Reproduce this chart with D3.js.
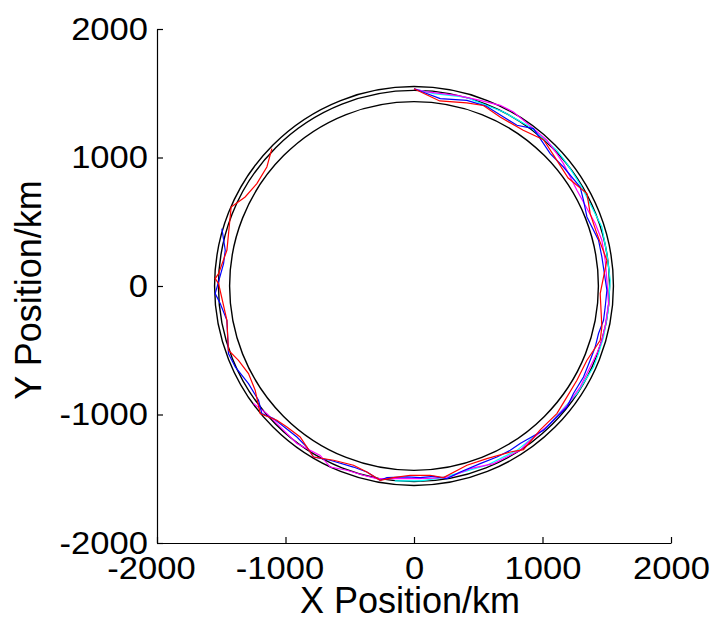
<!DOCTYPE html>
<meta charset="utf-8">
<head>
  <meta charset="UTF-8" />
  <title>Orbit tracks</title>
  <script src="https://d3js.org/d3.v7.min.js"></script>
</head>
<style>
  body { margin: 0; background: #fff; }
  text { font-family: Arial, "Liberation Sans", sans-serif; fill: #000; }
</style>
<div id="chart"></div>
<script>

  // axis ticks
  var xTicks = [-2000, -1000, 0, 1000, 2000]
  var yTicks = [-2000, -1000, 0, 1000, 2000]

  // black reference circles, radius in km
  var circleRadii = [1435, 1522, 1552]

  // tracks in km, [x, y]
  var cyanTrack = [[0,1535],[152,1497],[400,1470],[697,1354],[904,1237],[1112,1056],[1190,952],[1300,780],[1462,459],[1501,252],[1527,44],[1510,-200],[1475,-397],[1436,-526],[1397,-630],[1268,-837],[1034,-1097],[930,-1175],[801,-1279],[567,-1395],[385,-1447],[200,-1495],[48,-1517],[-150,-1517]]

  var magentaTrack = [[0,1535],[100,1510],[334,1484],[515,1445],[671,1406],[774,1354],[900,1250],[1034,1134],[1112,1030],[1163,952],[1268,745],[1410,486],[1462,356],[1488,200],[1501,44],[1514,-137],[1490,-300],[1462,-423],[1423,-526],[1371,-630],[1293,-786],[1190,-930],[1060,-1071],[878,-1226],[826,-1279],[619,-1382],[437,-1421],[282,-1486],[150,-1495],[48,-1499],[-133,-1499],[-289,-1499],[-393,-1473],[-522,-1434],[-652,-1409],[-730,-1318],[-911,-1226],[-989,-1149],[-1145,-993],[-1249,-915]]

  var blueTrack = [[0,1535],[204,1458],[412,1445],[560,1400],[697,1315],[801,1251],[930,1225],[1060,1030],[1163,926],[1293,770],[1319,667],[1346,537],[1436,356],[1462,226],[1501,-33],[1488,-163],[1475,-267],[1436,-370],[1410,-475],[1371,-578],[1319,-708],[1241,-837],[1190,-942],[1086,-1045],[1008,-1123],[826,-1226],[749,-1279],[645,-1331],[515,-1382],[360,-1447],[256,-1499],[152,-1481],[48,-1491],[-55,-1486],[-211,-1491],[-263,-1512],[-367,-1447],[-471,-1409],[-652,-1356],[-782,-1331],[-834,-1253],[-911,-1175],[-1093,-1032],[-1184,-993],[-1210,-889],[-1288,-760],[-1391,-630],[-1444,-526],[-1456,-267],[-1508,-137],[-1547,-59],[-1482,174],[-1469,278],[-1495,447]]

  var redTrack = [[0,1535],[200,1440],[410,1425],[540,1405],[670,1315],[850,1212],[1008,1139],[1112,978],[1200,840],[1346,719],[1371,563],[1423,408],[1501,200],[1449,-59],[1462,-319],[1449,-423],[1346,-578],[1268,-734],[1180,-880],[1112,-993],[982,-1120],[852,-1273],[749,-1292],[567,-1343],[412,-1395],[230,-1491],[126,-1473],[-30,-1473],[-160,-1491],[-263,-1512],[-367,-1447],[-471,-1395],[-626,-1356],[-782,-1331],[-886,-1175],[-989,-1097],[-1067,-1045],[-1197,-993],[-1236,-811],[-1288,-682],[-1366,-578],[-1444,-500],[-1456,-267],[-1521,19],[-1547,58],[-1521,96],[-1456,278],[-1423,615],[-1314,693],[-1223,797],[-1145,926],[-1106,1069]]

  var tracks = [
    {name: "cyan", color: "#00ffff", points: cyanTrack},
    {name: "magenta", color: "#ff00ff", points: magentaTrack},
    {name: "blue", color: "#0000ff", points: blueTrack},
    {name: "red", color: "#ff0000", points: redTrack}
  ]

  var margin = {top: 29, right: 39, bottom: 80, left: 157},
      width = 710 - margin.left - margin.right,
      height = 623 - margin.top - margin.bottom;

  var svg = d3.select("#chart")
    .append("svg")
      .attr("width", 710)
      .attr("height", 623)
    .append("g")
      .attr("transform", "translate(" + margin.left + "," + margin.top + ")");

  var x = d3.scaleLinear().domain([-2000, 2000]).range([0, width])
  var y = d3.scaleLinear().domain([-2000, 2000]).range([height, 0])

  // circles
  svg.selectAll("ellipse.ring")
    .data(circleRadii)
    .join("ellipse")
      .attr("class", "ring")
      .attr("cx", x(0))
      .attr("cy", y(0))
      .attr("rx", d => x(d) - x(0))
      .attr("ry", d => y(0) - y(d))
      .attr("fill", "none")
      .attr("stroke", "#000")
      .attr("stroke-width", 1.4)

  var line = d3.line()
    .x(d => x(d[0]))
    .y(d => y(d[1]))

  svg.selectAll("path.track")
    .data(tracks)
    .join("path")
      .attr("class", "track")
      .attr("d", d => line(d.points))
      .attr("fill", "none")
      .attr("stroke", d => d.color)
      .attr("stroke-width", 1.2)

  // tick labels: digits centred on tick, minus hangs left
  var fmt = d => String(d)
  var stretch = 1.08

  var xAxis = svg.append("g")
    .attr("transform", "translate(0," + height + ")")
    .call(d3.axisBottom(x).tickValues(xTicks).tickFormat(fmt).tickSize(-6).tickSizeOuter(0).tickPadding(13))
  xAxis.selectAll("text")
    .style("font-size", "32px")
    .attr("transform", d => "translate(" + (d < 0 ? -6 : 0) + ",0) scale(" + stretch + ",1)")

  var yAxis = svg.append("g")
    .call(d3.axisLeft(y).tickValues(yTicks).tickFormat(fmt).tickSize(-6).tickSizeOuter(0).tickPadding(0))
  yAxis.selectAll("text")
    .style("font-size", "32px")
    .attr("x", 0)
    .attr("transform", "translate(-9,0) scale(" + stretch + ",1)")

  svg.selectAll(".domain, .tick line").attr("stroke", "#000").attr("stroke-width", 1.2)

  // axis titles
  svg.append("text")
    .attr("x", 253)
    .attr("y", 613 - margin.top)
    .attr("text-anchor", "middle")
    .style("font-size", "36px")
    .text("X Position/km")

  svg.append("text")
    .attr("transform", "translate(" + (41 - margin.left) + "," + (290 - margin.top) + ") rotate(-90)")
    .attr("text-anchor", "middle")
    .style("font-size", "36px")
    .text("Y Position/km")

</script>
